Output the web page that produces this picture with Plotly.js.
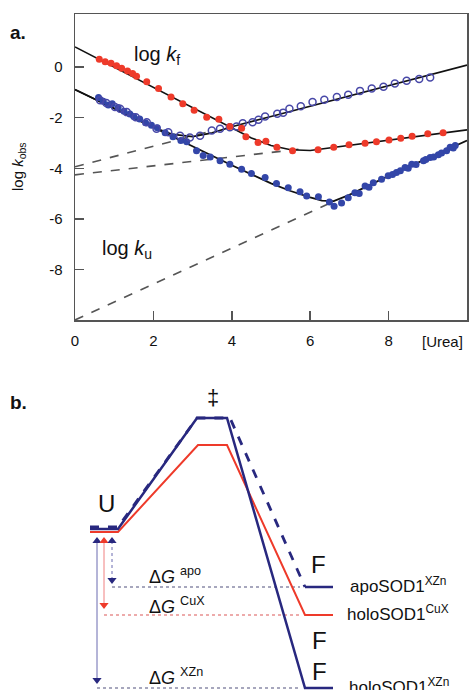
<!DOCTYPE html>
<html><head><meta charset="utf-8">
<script src="https://cdn.plot.ly/plotly-3.0.1.min.js"></script>
<style>html,body{margin:0;padding:0;background:#fff;} #chart{width:470px;height:690px;}</style>
</head><body><div id="chart"></div>
<script>
// ---------- Panel a: chevron data (x = [Urea], y = log k_obs) ----------
const redX = [0.62,0.77,0.92,1.06,1.19,1.34,1.47,1.57,1.83,2.13,2.45,2.75,3.04,3.36,3.67,3.95,4.25,4.36,4.67,4.87,5.15,5.55,6.2,6.6,6.99,7.4,7.69,8.01,8.31,8.6,9.0,9.39];
const redY = [0.31,0.21,0.15,0.05,-0.05,-0.15,-0.25,-0.36,-0.58,-0.85,-1.18,-1.45,-1.71,-1.98,-2.06,-2.35,-2.42,-2.75,-2.98,-2.93,-3.17,-3.31,-3.27,-3.17,-3.07,-3.01,-2.95,-2.88,-2.81,-2.73,-2.64,-2.6];

const openX = [0.64,0.8,1.02,1.15,1.32,1.55,1.83,2.08,2.38,2.68,2.93,3.19,3.49,3.7,3.95,4.12,4.28,4.53,4.68,4.85,5.16,5.31,5.47,5.76,6.06,6.36,6.68,6.97,7.27,7.57,7.87,8.16,8.46,8.78,9.06];
const openY = [-1.31,-1.42,-1.58,-1.65,-1.78,-1.98,-2.18,-2.44,-2.58,-2.71,-2.78,-2.71,-2.51,-2.44,-2.38,-2.35,-2.22,-2.18,-2.08,-1.95,-1.84,-1.8,-1.65,-1.55,-1.38,-1.29,-1.18,-1.09,-0.94,-0.85,-0.78,-0.65,-0.54,-0.47,-0.41];

const blueX = [0.6,0.72,0.85,0.95,1.1,1.25,1.4,1.5,1.65,1.8,1.95,2.1,2.3,2.5,2.7,2.85,3.1,3.27,3.45,3.7,3.95,4.25,4.5,4.85,5.14,5.44,5.74,5.91,6.21,6.49,6.61,6.8,6.97,7.14,7.25,7.4,7.5,7.61,7.82,7.99,8.1,8.2,8.3,8.42,8.5,8.59,8.7,8.89,8.95,9.06,9.15,9.27,9.35,9.48,9.57,9.65,9.7];
const blueY = [-1.2,-1.35,-1.5,-1.45,-1.6,-1.75,-1.85,-1.95,-2.05,-2.2,-2.3,-2.4,-2.6,-2.75,-2.9,-2.95,-3.31,-3.5,-3.55,-3.7,-3.84,-4.04,-4.21,-4.37,-4.6,-4.77,-4.93,-5.1,-5.13,-5.33,-5.5,-5.37,-5.17,-4.97,-5.0,-4.7,-4.75,-4.57,-4.43,-4.3,-4.25,-4.17,-4.1,-3.97,-4.0,-3.84,-3.85,-3.7,-3.65,-3.57,-3.55,-3.47,-3.4,-3.31,-3.17,-3.2,-3.1];

// fitted chevron curves
const fitRedX = [0,1,2,3,3.95,4.5,5.0,5.5,6.0,6.5,7.0,8.0,10];
const fitRedY = [0.8,0.0,-0.8,-1.6,-2.36,-2.8,-3.1,-3.27,-3.3,-3.2,-3.08,-2.88,-2.48];
const fitBlueX = [0,1,2,3,4,5,5.5,6.0,6.3,6.6,7.0,8.0,9.0,10];
const fitBlueY = [-0.89,-1.64,-2.38,-3.13,-3.88,-4.6,-4.9,-5.15,-5.28,-5.3,-5.05,-4.3,-3.6,-2.9];
const fitOpenX = [0,1,2,2.5,3.0,3.5,4,5,6,7,8,9,10];
const fitOpenY = [-0.89,-1.64,-2.38,-2.66,-2.75,-2.6,-2.36,-1.95,-1.54,-1.13,-0.72,-0.31,0.08];
// dashed extrapolations
const dashAX = [0,3.5], dashAY = [-3.94,-2.52];
const dashBX = [0,5.7], dashBY = [-4.26,-3.25];
const dashCX = [0,6.5], dashCY = [-10.0,-5.38];

const xTicks = [0,2,4,6,8];
const yTicks = [-8,-6,-4,-2,0];

// ---------- Panel b: free-energy diagram (reaction coordinate, free energy) ----------
const xznX = [0,2.8,10.7,13.7,21.5,24.3];
const xznY = [0.1,0.1,11.2,11.2,-15.8,-15.8];
const apoX = [0,2.8,10.7,14.0,21.5];
const apoY = [0.3,0.3,11.2,11.2,-5.7];
const apoLevelX = [21.5,24.3], apoLevelY = [-5.7,-5.7];
const cuxX = [0,2.8,10.8,13.7,21.5,24.3];
const cuxY = [-0.2,-0.2,8.5,8.5,-8.5,-8.5];
const refApoX = [2.2,21.0], refApoY = [-5.7,-5.7];
const refCuxX = [1.4,21.0], refCuxY = [-8.5,-8.5];
const refXznX = [0.7,21.0], refXznY = [-15.8,-15.8];
const arrXznX = [0.7,0.7], arrXznY = [-1.1,-15.0];
const arrCuxX = [1.4,1.4], arrCuxY = [-1.1,-7.5];
const arrApoX = [2.2,2.2], arrApoY = [-1.1,-5.0];

const NAVY = '#28287f', RED = '#ee3a2a', BLUE = '#3346a8';
const FONT = 'Liberation Sans, Arial, sans-serif';

const traces = [
  {x: dashAX, y: dashAY, mode:'lines', line:{color:'#555', width:1.6, dash:'dash'}, xaxis:'x', yaxis:'y'},
  {x: dashBX, y: dashBY, mode:'lines', line:{color:'#555', width:1.6, dash:'dash'}, xaxis:'x', yaxis:'y'},
  {x: dashCX, y: dashCY, mode:'lines', line:{color:'#555', width:1.6, dash:'dash'}, xaxis:'x', yaxis:'y'},
  {x: fitOpenX, y: fitOpenY, mode:'lines', line:{color:'#111', width:1.6}, xaxis:'x', yaxis:'y'},
  {x: fitBlueX, y: fitBlueY, mode:'lines', line:{color:'#111', width:1.8}, xaxis:'x', yaxis:'y'},
  {x: fitRedX, y: fitRedY, mode:'lines', line:{color:'#111', width:1.6}, xaxis:'x', yaxis:'y'},
  {x: blueX, y: blueY, mode:'markers', marker:{color:BLUE, size:7}, xaxis:'x', yaxis:'y'},
  {x: openX, y: openY, mode:'markers', marker:{symbol:'circle-open', color:'#4848a8', size:7, line:{width:1.5}}, xaxis:'x', yaxis:'y'},
  {x: redX, y: redY, mode:'markers', marker:{color:RED, size:7}, xaxis:'x', yaxis:'y'},

  // panel b
  {x: refApoX, y: refApoY, mode:'lines', line:{color:'#8a8aa8', width:1.3, dash:'dot'}, xaxis:'x2', yaxis:'y2'},
  {x: refCuxX, y: refCuxY, mode:'lines', line:{color:'#e89090', width:1.3, dash:'dot'}, xaxis:'x2', yaxis:'y2'},
  {x: refXznX, y: refXznY, mode:'lines', line:{color:'#8a8aa8', width:1.3, dash:'dot'}, xaxis:'x2', yaxis:'y2'},
  {x: cuxX, y: cuxY, mode:'lines', line:{color:RED, width:2}, xaxis:'x2', yaxis:'y2'},
  {x: xznX, y: xznY, mode:'lines', line:{color:NAVY, width:2.5}, xaxis:'x2', yaxis:'y2'},
  {x: apoX, y: apoY, mode:'lines', line:{color:NAVY, width:2.8, dash:'dash'}, xaxis:'x2', yaxis:'y2'},
  {x: apoLevelX, y: apoLevelY, mode:'lines', line:{color:NAVY, width:2.5}, xaxis:'x2', yaxis:'y2'},
  {x: arrXznX, y: arrXznY, mode:'lines+markers', line:{color:'#6a6ab0', width:1}, marker:{symbol:['triangle-up','triangle-down'], color:NAVY, size:8}, xaxis:'x2', yaxis:'y2'},
  {x: arrCuxX, y: arrCuxY, mode:'lines+markers', line:{color:'#f08080', width:1}, marker:{symbol:['triangle-up','triangle-down'], color:RED, size:8}, xaxis:'x2', yaxis:'y2'},
  {x: arrApoX, y: arrApoY, mode:'lines+markers', line:{color:'#6a6ab0', width:1, dash:'dot'}, marker:{symbol:['triangle-up','triangle-down'], color:NAVY, size:8}, xaxis:'x2', yaxis:'y2'}
];

const W = 470, H = 690;
const px = v => v / W, py = v => 1 - v / H;

const ann = (o) => Object.assign({showarrow:false, xanchor:'center', yanchor:'middle', font:{family:FONT, size:15, color:'#111'}}, o);

const annotations = [
  ann({text:'<b>a.</b>', xref:'paper', yref:'paper', x:px(18), y:py(32), font:{family:FONT, size:19, color:'#111'}}),
  ann({text:'<b>b.</b>', xref:'paper', yref:'paper', x:px(18), y:py(402), font:{family:FONT, size:19, color:'#111'}}),
  ann({text:'log <i>k</i><sub>obs</sub>', xref:'paper', yref:'paper', x:px(18), y:py(167), textangle:-90, font:{family:FONT, size:15, color:'#111'}}),
  ann({text:'[Urea]', xref:'paper', yref:'paper', x:px(442), y:py(341), font:{family:FONT, size:15, color:'#111'}}),
  ann({text:'log <i>k</i><sub>f</sub>', xref:'x', yref:'y', x:1.45, y:0.47, xanchor:'left', font:{family:FONT, size:20, color:'#111'}}),
  ann({text:'log <i>k</i><sub>u</sub>', xref:'x', yref:'y', x:0.64, y:-7.23, xanchor:'left', font:{family:FONT, size:20, color:'#111'}}),
  // panel b labels
  ann({text:'‡', xref:'x2', yref:'y2', x:12.3, y:13.3, font:{family:FONT, size:22, color:'#111'}}),
  ann({text:'U', xref:'x2', yref:'y2', x:1.6, y:2.7, font:{family:FONT, size:24, color:'#111'}}),
  ann({text:'F', xref:'x2', yref:'y2', x:22.8, y:-3.4, font:{family:FONT, size:24, color:'#111'}}),
  ann({text:'F', xref:'x2', yref:'y2', x:22.9, y:-11.0, font:{family:FONT, size:24, color:'#111'}}),
  ann({text:'F', xref:'x2', yref:'y2', x:22.9, y:-14.1, font:{family:FONT, size:24, color:'#111'}}),
  ann({text:'apoSOD1<sup>XZn</sup>', xref:'x2', yref:'y2', x:25.8, y:-5.5, xanchor:'left', font:{family:FONT, size:17, color:'#111'}}),
  ann({text:'holoSOD1<sup>CuX</sup>', xref:'x2', yref:'y2', x:25.5, y:-8.3, xanchor:'left', font:{family:FONT, size:17, color:'#111'}}),
  ann({text:'holoSOD1<sup>XZn</sup>', xref:'x2', yref:'y2', x:25.7, y:-15.6, xanchor:'left', font:{family:FONT, size:17, color:'#111'}}),
  ann({text:'Δ<i>G</i> <sup>apo</sup>', xref:'x2', yref:'y2', x:5.7, y:-4.5, xanchor:'left', font:{family:FONT, size:18, color:'#111'}}),
  ann({text:'Δ<i>G</i> <sup>CuX</sup>', xref:'x2', yref:'y2', x:5.7, y:-7.5, xanchor:'left', font:{family:FONT, size:18, color:'#111'}}),
  ann({text:'Δ<i>G</i> <sup>XZn</sup>', xref:'x2', yref:'y2', x:5.7, y:-14.6, xanchor:'left', font:{family:FONT, size:18, color:'#111'}})
];

const axisCommon = {showline:true, linecolor:'#555', linewidth:1.5, mirror:true, ticks:'inside', ticklen:9, tickwidth:1.5, tickcolor:'#555', showgrid:false, zeroline:false, tickfont:{family:FONT, size:15, color:'#111'}};

const layout = {
  width: W, height: H, margin:{l:0, r:0, t:0, b:0},
  paper_bgcolor:'#fff', plot_bgcolor:'rgba(0,0,0,0)', showlegend:false,
  font:{family:FONT},
  xaxis: Object.assign({}, axisCommon, {domain:[px(75), px(467)], range:[0,10], tickvals:xTicks, ticktext:xTicks.map(String), anchor:'y', ticklabelstandoff:6}),
  yaxis: Object.assign({}, axisCommon, {domain:[py(320), py(14)], range:[-10,2.1], tickvals:yTicks, ticktext:yTicks.map(String), anchor:'x', ticklabelstandoff:8}),
  xaxis2: {domain:[0,1], range:[-9,38], visible:false, anchor:'y2'},
  yaxis2: {domain:[0,1], range:[-16,53], visible:false, anchor:'x2'},
  annotations: annotations
};

Plotly.newPlot('chart', traces, layout, {staticPlot:true, displayModeBar:false});
</script></body></html>
